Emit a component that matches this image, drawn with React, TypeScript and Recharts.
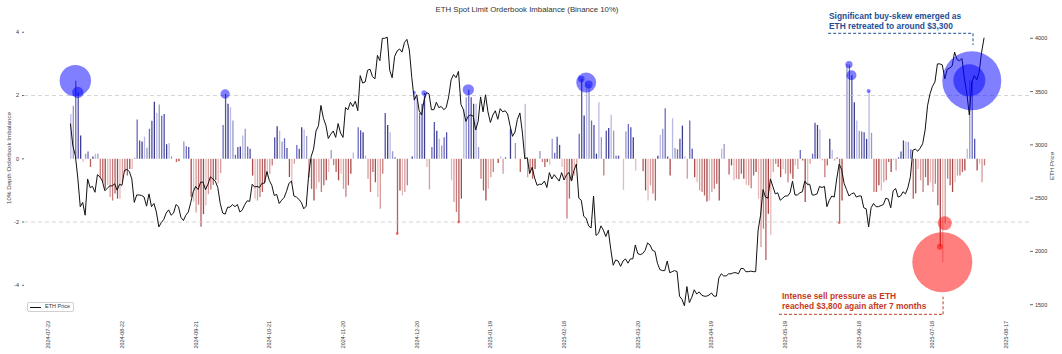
import React from "react";
import {
  Bar,
  Cell,
  ComposedChart,
  Line,
  ReferenceLine,
  Scatter,
  XAxis,
  YAxis,
  ZAxis,
} from "recharts";

const FONT = '"Liberation Sans", Arial, sans-serif';
const AXIS_START = "2024-07-23";
const SERIES_START = "2024-08-01";

const tickDates = [
  "2024-07-23", "2024-08-22", "2024-09-21", "2024-10-21", "2024-11-20",
  "2024-12-20", "2025-01-19", "2025-02-18", "2025-03-20", "2025-04-19",
  "2025-05-19", "2025-06-18", "2025-07-18", "2025-08-17",
];

// 10% depth orderbook imbalance, one value per day from 2024-08-01
const imbAug24 = [1.42, 1.68, 2.47, 2.1, 0.74, -0.1, 0.16, 0.23, -0.26, 0.07, 0.16, 0.16, -0.58, -0.74, -0.95, -0.84, -1.21, -1.32, -1.1, -1.26, -1.26, -0.74, -0.42, -0.53, -0.32, -0.32, 0.03, 1.24, 0.58, 0.55, 0.7];
const imbSep24 = [0.35, 0.95, 1.2, 1.8, 1.45, 1.72, 1.36, 1.42, 0.46, 0.5, 0.08, 0, -0.1, -0.08, 0, 0.55, 0.4, 0.37, -1.2, -1.35, -1.7, -1.45, -2.15, -1.75, -1.48, -1.12, -0.97, -0.82, -0.67, -0.78];
const imbOct24 = [-0.45, 1.07, 2.05, 1.74, 1.63, 1.21, 0.13, 0.37, 0.39, 0.74, 0.95, 0.39, 0.32, -0.53, -1.26, -1.32, -1.21, -1.05, -0.74, -0.58, -0.47, -0.21, 0.68, 1.03, 0.89, 0.55, 0.65, 0.34, -0.58, -0.79, -0.16];
const imbNov24 = [0.44, 0.32, 1.0, 0.93, 0.72, -0.58, -0.95, -1.32, -0.95, -0.74, -1.05, -0.84, -0.68, -0.42, 0.28, -0.2, -0.42, -0.68, -0.47, -0.95, -1.2, -0.84, -0.47, 0.2, 0, 1.0, 0.9, 0.84, 0.1, -0.63];
const imbDec24 = [-1.05, -0.42, -0.74, -1.21, -1.58, -0.47, 1.45, 1.07, 0.84, 0.24, 0.05, -2.37, -1.0, -1.16, -1.05, -0.84, 0, 0.07, 2.1, 1.95, 1.45, 1.74, 2.08, -0.26, -0.97, 0.37, 1.16, 0.89, 0.63, 0.42, 0.68];
const imbJan25 = [0.84, 0, -0.68, -1.37, -1.68, -2.0, -1.26, 1.58, 1.95, 2.18, 1.95, 1.74, 1.74, 0.37, -0.63, -1.0, -1.32, -0.95, -0.58, -0.42, 0, -0.13, 0.07, -0.47, 0.05, 0, 0.95, 0, 0.5, 0, -0.42];
const imbFeb25 = [0, 1.74, -0.58, -0.42, -0.63, -0.32, 0, 0.25, -0.1, -0.26, -0.1, -0.19, 0.63, 0.19, 0.7, 0.44, -0.26, -0.58, -1.89, -1.26, -0.68, -0.53, -0.21, 0.79, 2.52, 1.37, 2.41, 2.35];
const imbMar25 = [1.21, 1.07, 0.16, 1.79, 0.68, -0.53, 0.89, 0.97, 1.39, 0.89, 0.1, 0.1, 0, -0.98, 0.86, 1.1, 1.0, 0.68, -0.37, 0, 0, -0.39, -1.0, -1.32, -0.84, -1.1, -1.32, 0.1, 0.76, 0.95, 1.6];
const imbApr25 = [0.07, -0.53, 1.28, 0.34, 0.3, 0.63, 1.05, 0.07, -0.63, 1.21, 0.32, -0.58, -0.74, -1.0, -1.05, -1.16, -1.35, -1.32, -1.05, -0.95, -0.79, -1.32, 0.32, 0.47, 0, -0.5, -0.21, -0.68, -0.63, -0.65];
const imbMay25 = [-0.47, -0.63, -0.82, -0.84, -0.93, -0.53, -0.42, -1.26, -2.79, -2.21, -3.2, -1.74, -2.4, -0.42, -0.16, -0.26, -0.58, -0.32, -0.47, -0.74, -0.47, -0.63, -0.21, -0.32, 0.28, -0.05, -1.37, -0.84, -0.16, 0.16, 1.14];
const imbJun25 = [1.07, 0.93, -0.05, -0.58, -0.21, 0.63, 0.29, -0.05, 0.05, -2.02, -1.32, 0, 3.0, 2.98, 2.64, 1.79, 1.21, 0.89, 0.86, 0.84, 0.63, 2.14, 0.82, -1.05, -1.05, -0.84, -1.0, -0.74, -0.68, -0.1];
const imbJul25 = [-0.42, -0.05, -0.37, 0.05, 0.23, 0.58, 0.55, 0.53, 0.3, -1.26, -1.1, -0.32, -0.68, -1.05, -0.58, -0.84, -0.74, -1.05, -0.79, -1.47, -2.78, -3.27, -2.04, -0.63, -0.84, -1.05, -0.74, -0.53, -0.53, -0.42, -0.37];
const imbAug25 = [0.32, 2.48, 2.47, 0.63, -0.37, -0.16, -0.74, -0.21];

// ETH daily price, same days
const priceAug24 = [3200, 2990, 2900, 2690, 2420, 2460, 2340, 2680, 2600, 2610, 2555, 2720, 2700, 2660, 2570, 2590, 2615, 2615, 2635, 2575, 2630, 2620, 2760, 2770, 2750, 2680, 2460, 2530, 2530, 2525, 2510];
const priceSep24 = [2425, 2540, 2420, 2450, 2370, 2230, 2270, 2300, 2360, 2390, 2340, 2360, 2440, 2420, 2320, 2290, 2340, 2370, 2460, 2560, 2610, 2580, 2650, 2650, 2580, 2630, 2700, 2680, 2660, 2600];
const priceOct24 = [2450, 2360, 2350, 2415, 2415, 2440, 2420, 2440, 2370, 2390, 2440, 2475, 2470, 2630, 2605, 2610, 2600, 2640, 2640, 2750, 2665, 2620, 2525, 2535, 2450, 2480, 2505, 2565, 2640, 2660, 2520];
const priceNov24 = [2510, 2490, 2460, 2400, 2425, 2720, 2890, 2960, 3130, 3180, 3370, 3250, 3185, 3060, 3100, 3130, 3070, 3200, 3110, 3070, 3350, 3330, 3400, 3360, 3410, 3320, 3650, 3580, 3590, 3700];
const priceDec24 = [3710, 3640, 3620, 3840, 3790, 4000, 4000, 4010, 3700, 3630, 3830, 3880, 3900, 3870, 3960, 3990, 3890, 3630, 3420, 3470, 3320, 3280, 3420, 3490, 3480, 3330, 3330, 3400, 3350, 3360, 3330];
const priceJan25 = [3350, 3450, 3610, 3660, 3630, 3690, 3380, 3330, 3220, 3270, 3280, 3270, 3140, 3220, 3450, 3310, 3470, 3310, 3210, 3280, 3320, 3240, 3340, 3310, 3320, 3290, 3180, 3080, 3120, 3240, 3300];
const priceFeb25 = [3120, 2870, 2880, 2730, 2790, 2690, 2620, 2630, 2630, 2660, 2600, 2740, 2680, 2720, 2690, 2660, 2740, 2670, 2720, 2740, 2660, 2760, 2820, 2500, 2480, 2330, 2310, 2240];
const priceMar25 = [2220, 2520, 2150, 2170, 2240, 2200, 2140, 2200, 2020, 1870, 1920, 1910, 1860, 1910, 1930, 1890, 1930, 1930, 2060, 1980, 1970, 1980, 2010, 2080, 2060, 2010, 2000, 1890, 1830, 1820, 1820];
const priceApr25 = [1910, 1800, 1810, 1820, 1810, 1580, 1550, 1490, 1670, 1520, 1570, 1640, 1600, 1620, 1590, 1580, 1580, 1590, 1610, 1580, 1580, 1750, 1790, 1770, 1770, 1790, 1790, 1800, 1800, 1790];
const priceMay25 = [1840, 1840, 1810, 1810, 1815, 1810, 1810, 2200, 2340, 2580, 2510, 2500, 2680, 2610, 2540, 2550, 2480, 2500, 2520, 2520, 2550, 2660, 2530, 2530, 2550, 2560, 2660, 2630, 2630, 2530, 2530];
const priceJun25 = [2540, 2610, 2600, 2610, 2420, 2480, 2520, 2510, 2680, 2820, 2770, 2640, 2580, 2520, 2540, 2550, 2510, 2520, 2520, 2410, 2400, 2230, 2410, 2450, 2420, 2420, 2430, 2440, 2500, 2490];
const priceJul25 = [2410, 2570, 2590, 2510, 2520, 2560, 2540, 2600, 2700, 2950, 2960, 2940, 2970, 3010, 3140, 3370, 3480, 3550, 3590, 3760, 3760, 3750, 3620, 3710, 3720, 3740, 3870, 3800, 3790, 3810, 3620];
const priceAug25 = [3480, 3280, 3590, 3650, 3610, 3680, 3870, 4005];

// extreme-imbalance markers (size = bubble weight)
const buyBubbleDates = ["2024-08-03", "2024-08-04", "2024-10-03", "2024-12-19", "2024-12-23", "2025-01-10", "2025-02-25", "2025-02-27", "2025-02-28", "2025-06-14", "2025-06-15", "2025-06-22", "2025-08-02", "2025-08-03"];
const buyBubbleSizes = [246, 32, 22, 2, 7, 32, 11, 100, 16, 13, 25, 4, 256, 870];
const sellBubbleDates = ["2024-12-12", "2025-01-06", "2025-06-10", "2025-07-21", "2025-07-22", "2025-07-23"];
const sellBubbleSizes = [2, 2, 1.5, 9, 900, 49];

const posShades = ["#b9b9e6", "#6b6bc4", "#3d3d8c", "#9797c9", "#5252a8"];
const negShades = ["#e6b9b9", "#c77a7a", "#a94848", "#d79a9a", "#b85f5f"];

function dayIndex(date: string) {
  const [y, m, d] = date.split("-").map(Number);
  const [y0, m0, d0] = AXIS_START.split("-").map(Number);
  return Math.round((Date.UTC(y, m - 1, d) - Date.UTC(y0, m0 - 1, d0)) / 86400000);
}

function dateLabel(day: number) {
  const [y0, m0, d0] = AXIS_START.split("-").map(Number);
  return new Date(Date.UTC(y0, m0 - 1, d0 + day)).toISOString().slice(0, 10);
}

const imbalance = [
  ...imbAug24, ...imbSep24, ...imbOct24, ...imbNov24, ...imbDec24, ...imbJan25,
  ...imbFeb25, ...imbMar25, ...imbApr25, ...imbMay25, ...imbJun25, ...imbJul25, ...imbAug25,
];
const price = [
  ...priceAug24, ...priceSep24, ...priceOct24, ...priceNov24, ...priceDec24, ...priceJan25,
  ...priceFeb25, ...priceMar25, ...priceApr25, ...priceMay25, ...priceJun25, ...priceJul25, ...priceAug25,
];
const startDay = dayIndex(SERIES_START);
const rows = imbalance.map((v, i) => ({ day: startDay + i, imbalance: v, price: price[i] }));

const toBubbles = (dates: string[], sizes: number[]) =>
  dates.map((d, i) => {
    const day = dayIndex(d);
    return { day, value: imbalance[day - startDay], z: sizes[i] };
  });
const buyBubbles = toBubbles(buyBubbleDates, buyBubbleSizes);
const sellBubbles = toBubbles(sellBubbleDates, sellBubbleSizes);

const BLUE_NOTE = "#1f4e96";
const RED_NOTE = "#c63b1e";
const buyAnchor = dayIndex("2025-08-03") + 0.5;
const sellAnchor = dayIndex("2025-07-22") + 0.3;

function DateTick({ x, y, payload }: any) {
  return (
    <text
      x={x}
      y={y}
      transform={`rotate(-90 ${x} ${y})`}
      textAnchor="end"
      dy="0.35em"
      fontSize={5.4}
      fill="#3a3a3a"
      fontFamily={FONT}
    >
      {dateLabel(payload.value)}
    </text>
  );
}

export default function App() {
  const W = 1062;
  const H = 354;
  return (
    <div style={{ position: "absolute", left: 0, top: 0, width: W, height: H, background: "#fff", fontFamily: FONT }}>
      <ComposedChart width={W} height={H} data={rows} margin={{ top: 10, right: 0, bottom: 0, left: 0 }}>
        <XAxis
          dataKey="day"
          type="number"
          domain={[-9.9, 399.7]}
          allowDataOverflow
          ticks={tickDates.map(dayIndex)}
          tick={<DateTick />}
          tickSize={0}
          tickMargin={3}
          axisLine={false}
          tickLine={false}
          height={36}
        />
        <YAxis
          yAxisId="left"
          type="number"
          domain={[-5.034, 4.705]}
          allowDataOverflow
          ticks={[-4, -2, 0, 2, 4]}
          width={24}
          tickSize={2}
          tickMargin={3}
          axisLine={false}
          tickLine={{ stroke: "#444", strokeWidth: 0.8 }}
          tick={{ fontSize: 5.5, fill: "#333", fontFamily: FONT }}
        />
        <YAxis
          yAxisId="right"
          orientation="right"
          type="number"
          domain={[1375.2, 4265.6]}
          allowDataOverflow
          ticks={[1500, 2000, 2500, 3000, 3500, 4000]}
          width={32}
          tickSize={3}
          tickMargin={2}
          axisLine={false}
          tickLine={{ stroke: "#444", strokeWidth: 0.8 }}
          tick={{ fontSize: 5.5, fill: "#333", fontFamily: FONT }}
        />
        <ZAxis zAxisId="bubble" dataKey="z" type="number" domain={[0, 1000]} range={[0, 1000 * Math.PI]} />
        <ReferenceLine yAxisId="left" y={2} stroke="#c8c8c8" strokeDasharray="4 3" strokeWidth={0.8} />
        <ReferenceLine yAxisId="left" y={-2} stroke="#c8c8c8" strokeDasharray="4 3" strokeWidth={0.8} />
        <Bar dataKey="imbalance" yAxisId="left" barSize={1.3} isAnimationActive={false}>
          {rows.map((r, i) => (
            <Cell
              key={r.day}
              fill={r.imbalance >= 0 ? posShades[(i * 3) % 5] : negShades[(i * 3) % 5]}
            />
          ))}
        </Bar>
        <Scatter
          data={buyBubbles}
          dataKey="value"
          yAxisId="left"
          zAxisId="bubble"
          fill="#0000ff"
          fillOpacity={0.5}
          isAnimationActive={false}
        />
        <Scatter
          data={sellBubbles}
          dataKey="value"
          yAxisId="left"
          zAxisId="bubble"
          fill="#ff0000"
          fillOpacity={0.5}
          isAnimationActive={false}
        />
        <Line
          dataKey="price"
          yAxisId="right"
          type="linear"
          stroke="#111"
          strokeWidth={1}
          dot={false}
          isAnimationActive={false}
        />
        <ReferenceLine
          yAxisId="left"
          segment={[{ x: 317.5, y: 3.968 }, { x: buyAnchor, y: 3.968 }]}
          stroke={BLUE_NOTE}
          strokeDasharray="3 2"
          strokeWidth={1}
        />
        <ReferenceLine
          yAxisId="left"
          segment={[{ x: buyAnchor, y: 3.968 }, { x: buyAnchor, y: 3.598 }]}
          stroke={BLUE_NOTE}
          strokeDasharray="3 2"
          strokeWidth={1}
        />
        <ReferenceLine
          yAxisId="left"
          segment={[{ x: 297.5, y: -4.917 }, { x: sellAnchor, y: -4.917 }]}
          stroke={RED_NOTE}
          strokeDasharray="3 2"
          strokeWidth={1}
        />
        <ReferenceLine
          yAxisId="left"
          segment={[{ x: sellAnchor, y: -4.917 }, { x: sellAnchor, y: -4.36 }]}
          stroke={RED_NOTE}
          strokeDasharray="3 2"
          strokeWidth={1}
        />
      </ComposedChart>

      <svg width={W} height={H} style={{ position: "absolute", left: 0, top: 0, pointerEvents: "none" }}>
        <text x={527} y={11.6} textAnchor="middle" fontSize={7.8} fill="#333" fontFamily={FONT}>
          ETH Spot Limit Orderbook Imbalance (Binance 10%)
        </text>
        <text
          x={8.5}
          y={158}
          transform="rotate(-90 8.5 158)"
          textAnchor="middle"
          dy="0.35em"
          fontSize={6.2}
          fill="#444"
          fontFamily={FONT}
        >
          10% Depth Orderbook Imbalance
        </text>
        <text
          x={1052}
          y={166}
          transform="rotate(-90 1052 166)"
          textAnchor="middle"
          dy="0.35em"
          fontSize={6.2}
          fill="#444"
          fontFamily={FONT}
        >
          ETH Price
        </text>
        <g fontFamily={FONT} fontWeight="bold" fontSize={8.4}>
          <text x={829} y={19.4} fill={BLUE_NOTE}>Significant buy-skew emerged as</text>
          <text x={829} y={28.8} fill={BLUE_NOTE}>ETH retreated to around $3,300</text>
          <text x={782} y={299.4} fill={RED_NOTE}>Intense sell pressure as ETH</text>
          <text x={782} y={308.8} fill={RED_NOTE}>reached $3,800 again after 7 months</text>
        </g>
      </svg>

      <div
        style={{
          position: "absolute",
          left: 27,
          top: 302,
          height: 10,
          padding: "0 3px 0 2px",
          border: "1px solid #d0d0d0",
          borderRadius: 2,
          boxSizing: "border-box",
          display: "flex",
          alignItems: "center",
          whiteSpace: "nowrap",
          fontSize: 5.5,
          lineHeight: 1,
          color: "#333",
          background: "#fff",
        }}
      >
        <span style={{ display: "inline-block", width: 11, height: 0, borderTop: "1px solid #111", marginRight: 4 }} />
        <span>ETH Price</span>
      </div>
    </div>
  );
}
